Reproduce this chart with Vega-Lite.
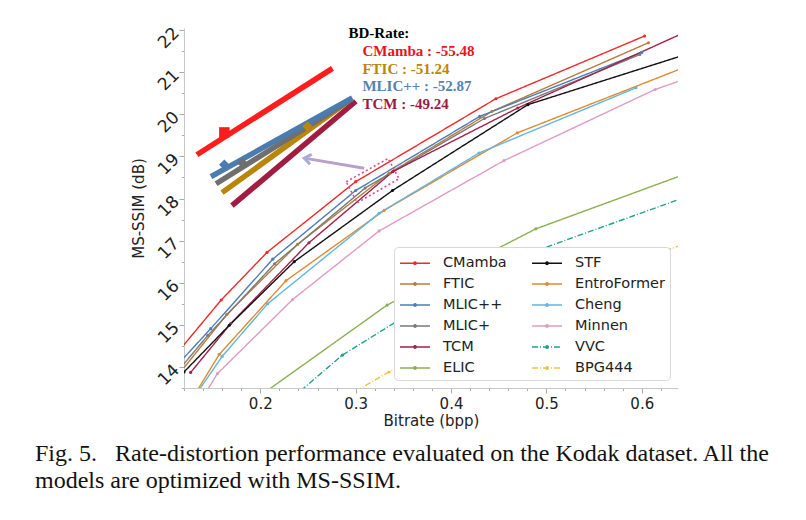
{
  "$schema": "https://vega.github.io/schema/vega-lite/v6.json",
  "width": 494,
  "height": 360,
  "autosize": "none",
  "padding": {"left": 184, "top": 28, "right": 128, "bottom": 132},
  "background": "white",
  "title": {
    "text": ["Fig. 5.\u00a0\u00a0\u00a0Rate-distortion performance evaluated on the Kodak dataset. All the", "models are optimized with MS-SSIM."],
    "orient": "bottom",
    "anchor": "start",
    "frame": "group",
    "dx": -149,
    "offset": 14,
    "font": "Liberation Serif",
    "fontSize": 24,
    "fontWeight": "normal",
    "color": "#111111",
    "lineHeight": 27
  },
  "datasets": {
    "main": [
      {"m": "CMamba", "bpp": 0.105, "ssim": 14.12},
      {"m": "CMamba", "bpp": 0.159, "ssim": 15.59},
      {"m": "CMamba", "bpp": 0.207, "ssim": 16.72},
      {"m": "CMamba", "bpp": 0.300, "ssim": 18.40},
      {"m": "CMamba", "bpp": 0.447, "ssim": 20.37},
      {"m": "CMamba", "bpp": 0.603, "ssim": 21.86},
      {"m": "FTIC", "bpp": 0.110, "ssim": 13.70},
      {"m": "FTIC", "bpp": 0.165, "ssim": 15.25},
      {"m": "FTIC", "bpp": 0.239, "ssim": 16.91},
      {"m": "FTIC", "bpp": 0.335, "ssim": 18.60},
      {"m": "FTIC", "bpp": 0.443, "ssim": 20.07},
      {"m": "FTIC", "bpp": 0.607, "ssim": 21.70},
      {"m": "MLIC++", "bpp": 0.105, "ssim": 13.85},
      {"m": "MLIC++", "bpp": 0.148, "ssim": 14.91},
      {"m": "MLIC++", "bpp": 0.213, "ssim": 16.56},
      {"m": "MLIC++", "bpp": 0.300, "ssim": 18.19},
      {"m": "MLIC++", "bpp": 0.430, "ssim": 19.95},
      {"m": "MLIC++", "bpp": 0.600, "ssim": 21.47},
      {"m": "MLIC+", "bpp": 0.108, "ssim": 13.75},
      {"m": "MLIC+", "bpp": 0.145, "ssim": 14.75},
      {"m": "MLIC+", "bpp": 0.215, "ssim": 16.45},
      {"m": "MLIC+", "bpp": 0.310, "ssim": 18.25},
      {"m": "MLIC+", "bpp": 0.435, "ssim": 19.90},
      {"m": "MLIC+", "bpp": 0.598, "ssim": 21.42},
      {"m": "TCM", "bpp": 0.127, "ssim": 13.87},
      {"m": "TCM", "bpp": 0.169, "ssim": 15.03},
      {"m": "TCM", "bpp": 0.251, "ssim": 16.95},
      {"m": "TCM", "bpp": 0.339, "ssim": 18.64},
      {"m": "TCM", "bpp": 0.470, "ssim": 20.15},
      {"m": "TCM", "bpp": 0.660, "ssim": 22.10},
      {"m": "ELIC", "bpp": 0.200, "ssim": 13.32},
      {"m": "ELIC", "bpp": 0.333, "ssim": 15.47},
      {"m": "ELIC", "bpp": 0.489, "ssim": 17.28},
      {"m": "ELIC", "bpp": 0.660, "ssim": 18.70},
      {"m": "STF", "bpp": 0.120, "ssim": 13.88},
      {"m": "STF", "bpp": 0.1675, "ssim": 14.99},
      {"m": "STF", "bpp": 0.2356, "ssim": 16.50},
      {"m": "STF", "bpp": 0.3386, "ssim": 18.19},
      {"m": "STF", "bpp": 0.4806, "ssim": 20.23},
      {"m": "STF", "bpp": 0.660, "ssim": 21.52},
      {"m": "EntroFormer", "bpp": 0.122, "ssim": 13.00},
      {"m": "EntroFormer", "bpp": 0.157, "ssim": 14.30},
      {"m": "EntroFormer", "bpp": 0.227, "ssim": 16.05},
      {"m": "EntroFormer", "bpp": 0.330, "ssim": 17.72},
      {"m": "EntroFormer", "bpp": 0.4695, "ssim": 19.56},
      {"m": "EntroFormer", "bpp": 0.660, "ssim": 21.25},
      {"m": "Cheng", "bpp": 0.125, "ssim": 13.10},
      {"m": "Cheng", "bpp": 0.160, "ssim": 14.25},
      {"m": "Cheng", "bpp": 0.2077, "ssim": 15.50},
      {"m": "Cheng", "bpp": 0.3246, "ssim": 17.65},
      {"m": "Cheng", "bpp": 0.4293, "ssim": 19.08},
      {"m": "Cheng", "bpp": 0.594, "ssim": 20.63},
      {"m": "Minnen", "bpp": 0.135, "ssim": 13.10},
      {"m": "Minnen", "bpp": 0.155, "ssim": 13.84},
      {"m": "Minnen", "bpp": 0.2338, "ssim": 15.60},
      {"m": "Minnen", "bpp": 0.3246, "ssim": 17.23},
      {"m": "Minnen", "bpp": 0.4555, "ssim": 18.90},
      {"m": "Minnen", "bpp": 0.614, "ssim": 20.59},
      {"m": "Minnen", "bpp": 0.660, "ssim": 20.95},
      {"m": "VVC", "bpp": 0.225, "ssim": 13.10},
      {"m": "VVC", "bpp": 0.286, "ssim": 14.28},
      {"m": "VVC", "bpp": 0.380, "ssim": 15.60},
      {"m": "VVC", "bpp": 0.492, "ssim": 16.78},
      {"m": "VVC", "bpp": 0.660, "ssim": 18.15},
      {"m": "BPG444", "bpp": 0.290, "ssim": 13.30},
      {"m": "BPG444", "bpp": 0.335, "ssim": 13.88},
      {"m": "BPG444", "bpp": 0.450, "ssim": 15.30},
      {"m": "BPG444", "bpp": 0.660, "ssim": 17.05}
    ],
    "inset": [
      {"s": "TCM", "bpp": 0.1703, "ssim": 17.83},
      {"s": "TCM", "bpp": 0.3002, "ssim": 20.31},
      {"s": "FTIC", "bpp": 0.1599, "ssim": 18.14},
      {"s": "FTIC", "bpp": 0.2897, "ssim": 20.27},
      {"s": "MLIC+", "bpp": 0.1536, "ssim": 18.35},
      {"s": "MLIC+", "bpp": 0.2965, "ssim": 20.37},
      {"s": "MLIC++", "bpp": 0.1483, "ssim": 18.52},
      {"s": "MLIC++", "bpp": 0.2965, "ssim": 20.39},
      {"s": "CMamba", "bpp": 0.1335, "ssim": 19.04},
      {"s": "CMamba", "bpp": 0.2757, "ssim": 21.09}
    ],
    "insetMarks": [
      {"s": "FTIC", "bpp": 0.2495, "ssim": 19.71},
      {"s": "MLIC+", "bpp": 0.1815, "ssim": 18.84},
      {"s": "MLIC++", "bpp": 0.1623, "ssim": 18.80},
      {"s": "CMamba", "bpp": 0.1623, "ssim": 19.57}
    ],
    "box": [
      {"k": 1, "bpp": 0.2901, "ssim": 18.40},
      {"k": 2, "bpp": 0.3340, "ssim": 18.95},
      {"k": 3, "bpp": 0.3455, "ssim": 18.47},
      {"k": 4, "bpp": 0.3016, "ssim": 17.90},
      {"k": 5, "bpp": 0.2901, "ssim": 18.40}
    ],
    "arrow": [
      {"part": "tail", "bpp": 0.3089, "ssim": 18.72},
      {"part": "head", "bpp": 0.2461, "ssim": 18.96}
    ],
    "notes": [
      {"t": "BD-Rate:", "s": "BD", "bpp": 0.2925, "ssim": 21.93},
      {"t": "CMamba : -55.48", "s": "CMamba", "bpp": 0.3071, "ssim": 21.50},
      {"t": "FTIC : -51.24", "s": "FTIC", "bpp": 0.3071, "ssim": 21.08},
      {"t": "MLIC++ : -52.87", "s": "MLIC++", "bpp": 0.3071, "ssim": 20.68},
      {"t": "TCM : -49.24", "s": "TCM", "bpp": 0.3071, "ssim": 20.25}
    ]
  },
  "resolve": {"scale": {"x": "independent", "y": "independent"}, "axis": {"x": "independent", "y": "independent"}},
  "layer": [
    {
      "data": {"name": "arrow"},
      "mark": {"type": "point", "opacity": 0},
      "encoding": {
        "x": {
          "field": "bpp", "type": "quantitative",
          "scale": {"domain": [0.12, 0.638], "nice": false, "zero": false},
          "axis": {
            "orient": "bottom", "title": null, "labels": false, "domain": false, "grid": false,
            "values": [0.12, 0.14, 0.16, 0.18, 0.22, 0.24, 0.26, 0.28, 0.32, 0.34, 0.36, 0.38, 0.42, 0.44, 0.46, 0.48, 0.52, 0.54, 0.56, 0.58, 0.62],
            "tickSize": 2.5
          }
        },
        "y": {
          "field": "ssim", "type": "quantitative",
          "scale": {"domain": [13.5, 22.05], "nice": false, "zero": false},
          "axis": {
            "orient": "left", "title": null, "labels": false, "domain": false, "grid": false,
            "values": [13.5, 14.5, 15.5, 16.5, 17.5, 18.5, 19.5, 20.5, 21.5],
            "tickSize": 2.5
          }
        }
      }
    },
    {
      "resolve": {"scale": {"color": "independent", "strokeDash": "independent", "shape": "independent"}},
      "layer": [
        {
          "data": {"name": "main"},
          "mark": {"type": "line", "strokeWidth": 1.4, "clip": true, "point": {"filled": true, "size": 10}},
          "encoding": {
            "x": {
              "field": "bpp", "type": "quantitative",
              "scale": {"domain": [0.12, 0.638], "nice": false, "zero": false},
              "axis": {
                "orient": "bottom",
                "title": "Bitrate (bpp)",
                "values": [0.2, 0.3, 0.4, 0.5, 0.6],
                "format": ".1f",
                "labelFlush": false
              }
            },
            "y": {
              "field": "ssim", "type": "quantitative",
              "scale": {"domain": [13.5, 22.05], "nice": false, "zero": false},
              "axis": {
                "orient": "left",
                "title": "MS-SSIM (dB)",
                "values": [14, 15, 16, 17, 18, 19, 20, 21, 22],
                "format": "d",
                "labelAngle": -45,
                "labelFontSize": 17,
                "labelFlush": false
              }
            },
            "color": {
              "field": "m", "type": "nominal",
              "scale": {
                "domain": ["CMamba", "FTIC", "MLIC++", "MLIC+", "TCM", "ELIC", "STF", "EntroFormer", "Cheng", "Minnen", "VVC", "BPG444"],
                "range": ["#ee2a2a", "#b97b3d", "#4c7db5", "#7a7a7a", "#a3214a", "#8cb04f", "#111111", "#e08a30", "#62b6e0", "#e29ac4", "#1fa389", "#efc23d"]
              },
              "legend": {"title": null}
            },
            "strokeDash": {
              "field": "m", "type": "nominal",
              "scale": {
                "domain": ["CMamba", "FTIC", "MLIC++", "MLIC+", "TCM", "ELIC", "STF", "EntroFormer", "Cheng", "Minnen", "VVC", "BPG444"],
                "range": [[1, 0], [1, 0], [1, 0], [1, 0], [1, 0], [1, 0], [1, 0], [1, 0], [1, 0], [1, 0], [6, 2, 1, 2], [6, 2, 1, 2]]
              },
              "legend": {"title": null}
            }
          }
        },
        {
          "data": {"name": "inset"},
          "mark": {"type": "line", "strokeWidth": 5.5, "strokeCap": "butt"},
          "encoding": {
            "x": {"field": "bpp", "type": "quantitative"},
            "y": {"field": "ssim", "type": "quantitative"},
            "detail": {"field": "s"},
            "color": {
              "field": "s", "type": "nominal", "legend": null,
              "scale": {"domain": ["TCM", "FTIC", "MLIC+", "MLIC++", "CMamba"], "range": ["#a01c40", "#b8860b", "#6f6f6f", "#4a7cb0", "#ff1c1c"]}
            }
          }
        },
        {
          "data": {"name": "insetMarks"},
          "mark": {"type": "point", "filled": true, "size": 110, "opacity": 1},
          "encoding": {
            "x": {"field": "bpp", "type": "quantitative"},
            "y": {"field": "ssim", "type": "quantitative"},
            "shape": {
              "field": "s", "type": "nominal", "legend": null,
              "scale": {"domain": ["FTIC", "MLIC+", "MLIC++", "CMamba"], "range": ["diamond", "diamond", "diamond", "square"]}
            },
            "color": {
              "field": "s", "type": "nominal", "legend": null,
              "scale": {"domain": ["FTIC", "MLIC+", "MLIC++", "CMamba"], "range": ["#b8860b", "#6f6f6f", "#4a7cb0", "#ff1c1c"]}
            }
          }
        },
        {
          "data": {"name": "box"},
          "mark": {"type": "line", "color": "#d4508a", "strokeWidth": 1.6, "strokeDash": [2, 2.5]},
          "encoding": {
            "x": {"field": "bpp", "type": "quantitative"},
            "y": {"field": "ssim", "type": "quantitative"},
            "order": {"field": "k", "type": "quantitative"}
          }
        },
        {
          "data": {"name": "arrow"},
          "mark": {"type": "line", "color": "#b7a0cc", "strokeWidth": 3},
          "encoding": {
            "x": {"field": "bpp", "type": "quantitative"},
            "y": {"field": "ssim", "type": "quantitative"}
          }
        },
        {
          "data": {"name": "arrow"},
          "transform": [{"filter": "datum.part == 'head'"}],
          "mark": {"type": "point", "shape": "M 1 -0.75 L 0 0 L 1 0.75", "filled": false, "color": "#a8acd8", "strokeWidth": 3, "size": 180, "angle": 10, "opacity": 1},
          "encoding": {
            "x": {"field": "bpp", "type": "quantitative"},
            "y": {"field": "ssim", "type": "quantitative"}
          }
        },
        {
          "data": {"name": "notes"},
          "mark": {"type": "text", "align": "left", "baseline": "middle", "font": "Liberation Serif", "fontWeight": "bold", "fontSize": 15},
          "encoding": {
            "x": {"field": "bpp", "type": "quantitative"},
            "y": {"field": "ssim", "type": "quantitative"},
            "text": {"field": "t"},
            "color": {
              "field": "s", "type": "nominal", "legend": null,
              "scale": {"domain": ["BD", "CMamba", "FTIC", "MLIC++", "TCM"], "range": ["#000000", "#e8141a", "#b8860b", "#5682b3", "#9b1b45"]}
            }
          }
        }
      ]
    }
  ],
  "config": {
    "view": {"stroke": null},
    "font": "DejaVu Sans",
    "axis": {
      "labelFont": "DejaVu Sans",
      "labelFontSize": 15,
      "labelColor": "#222222",
      "titleFont": "DejaVu Sans",
      "titleFontSize": 15,
      "titleFontWeight": "normal",
      "titleColor": "#222222",
      "domainColor": "#c8c8c8",
      "tickColor": "#aaaaaa",
      "tickSize": 5,
      "gridColor": "#f0f0f0",
      "grid": true
    },
    "axisX": {"labelPadding": 3, "titlePadding": 2},
    "axisY": {"labelPadding": 3, "titlePadding": 8},
    "legend": {
      "orient": "bottom-right",
      "offset": 8,
      "columns": 2,
      "symbolType": "M-1,0L2,0M0.38,0A0.12,0.12 0 1,0 0.62,0A0.12,0.12 0 1,0 0.38,0",
      "symbolSize": 400,
      "symbolStrokeWidth": 1.5,
      "labelFont": "DejaVu Sans",
      "labelFontSize": 14.5,
      "labelColor": "#222222",
      "labelOffset": 22,
      "columnPadding": 22,
      "rowPadding": 3,
      "padding": 5,
      "fillColor": "white",
      "strokeColor": "#d8d8d8",
      "cornerRadius": 4
    }
  }
}
